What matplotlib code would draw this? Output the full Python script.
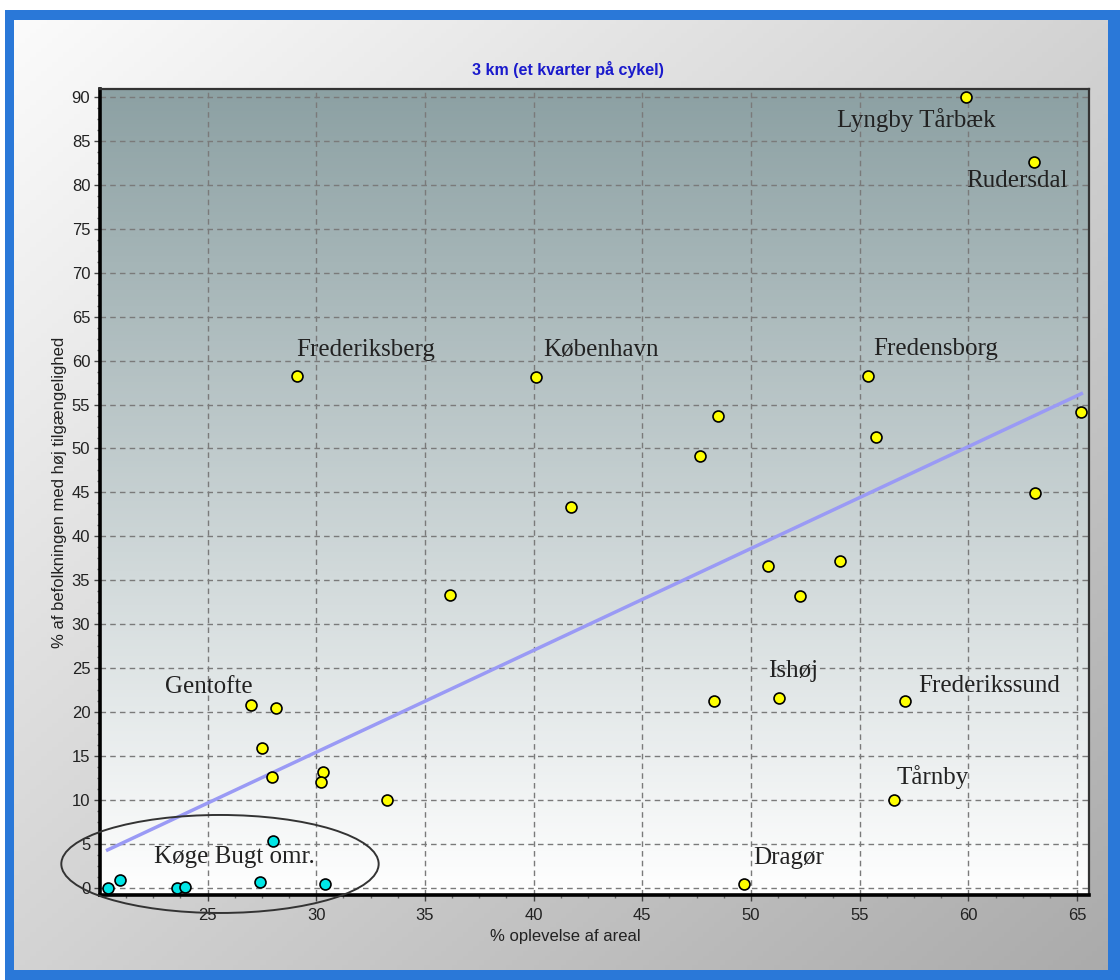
#!/usr/bin/env python
# scatter: 3 km (et kvarter paa cykel), areal vs. befolkning

import numpy as np
import matplotlib
matplotlib.use('Agg')
import matplotlib.pyplot as plt
import matplotlib.ticker as mticker
from matplotlib.patches import Ellipse, Rectangle

#------------------------------------------------------------------------------
# data
#------------------------------------------------------------------------------
# yellow points: kommuner
areal = [59.9, 63.0, 29.1, 40.1, 55.4, 65.2, 48.5, 55.75, 47.65, 63.06,
         41.7, 54.1, 50.8, 52.25, 36.15, 51.3, 48.3, 57.1, 27.0, 28.15,
         27.5, 30.3, 30.2, 27.96, 33.25, 56.6, 49.7]
befolk = [90.0, 82.6, 58.2, 58.1, 58.2, 54.2, 53.7, 51.3, 49.1, 44.9,
          43.3, 37.2, 36.6, 33.2, 33.3, 21.6, 21.3, 21.3, 20.8, 20.5,
          15.9, 13.2, 12.1, 12.6, 10.0, 10.0, 0.45]

# cyan points: Køge Bugt området
koege_areal = [20.4, 20.98, 23.6, 23.96, 27.4, 28.0, 30.4]
koege_befolk = [0.03, 0.87, 0.0, 0.15, 0.65, 5.3, 0.5]

# name labels (text anchor: left, vertical centre)
names = ['Lyngby Tårbæk', 'Rudersdal', 'Frederiksberg', 'København',
         'Fredensborg', 'Gentofte', 'Ishøj', 'Frederikssund', 'Tårnby',
         'Dragør', 'Køge Bugt omr.']
name_x = [53.95, 59.9, 29.07, 40.43, 55.6, 23.04, 50.8, 57.7, 56.7,
          50.09, 22.53]
name_y = [87.4, 80.4, 61.2, 61.2, 61.3, 22.9, 24.7, 23.0, 12.6, 3.4, 3.5]

title = '3 km (et kvarter på cykel)'
xlabel = '% oplevelse af areal'
ylabel = '% af befolkningen med høj tilgængelighed'

#------------------------------------------------------------------------------
# figure + frame
#------------------------------------------------------------------------------
W, H = 1120, 980
fig = plt.figure(figsize=(W / 100, H / 100), dpi=100, facecolor='white')

# blue frame
fig.patches.append(Rectangle((5 / W, 0), 1 - 5 / W, 1 - 10 / H,
                             transform=fig.transFigure, facecolor='#2a78d8',
                             edgecolor='none', zorder=-10))

# grey diagonal gradient inside the frame
bg = fig.add_axes([14 / W, 10 / H, (1108 - 14) / W, (970 - 20) / H],
                  zorder=-5)
u, v = np.meshgrid(np.linspace(0, 1, 200), np.linspace(0, 1, 200))
t = (u + v) / 2
c0 = np.array([0.985, 0.985, 0.985])
c1 = np.array([0.67, 0.67, 0.67])
grad = c0[None, None, :] * (1 - t[..., None]) + c1[None, None, :] * t[..., None]
bg.imshow(grad, aspect='auto', extent=[0, 1, 0, 1], origin='upper')
bg.set_axis_off()

#------------------------------------------------------------------------------
# plot axes
#------------------------------------------------------------------------------
ax = fig.add_axes([100 / W, 1 - 895 / H, (1089 - 100) / W, (895 - 89) / H])
xlim = (20.05, 65.55)
ylim = (-0.8, 90.9)

# vertical gradient in the plotting area
top = np.array([0.55, 0.63, 0.64])
bot = np.array([1.0, 1.0, 1.0])
s = np.linspace(0, 1, 256)[:, None]
vgrad = (top * (1 - s) + bot * s)[:, None, :]
ax.imshow(vgrad, aspect='auto', extent=[xlim[0], xlim[1], ylim[0], ylim[1]],
          origin='upper', zorder=0)

ax.grid(True, which='major', color='#7a7a7a', linestyle=(0, (4, 3)),
        linewidth=1)
ax.set_axisbelow(True)

# trend line (least squares through all points)
all_x = np.array(areal + koege_areal)
all_y = np.array(befolk + koege_befolk)
k, m = np.polyfit(all_x, all_y, 1)
lx = np.array([all_x.min(), all_x.max()])
ax.plot(lx, k * lx + m, color='#9a9af5', linewidth=2.5, zorder=3)

ax.scatter(areal, befolk, s=62, color='#ffff00', edgecolor='black',
           linewidth=1.2, zorder=4)
ax.scatter(koege_areal, koege_befolk, s=62, color='#00e6e6',
           edgecolor='black', linewidth=1.2, zorder=4, clip_on=False)

for nm, x, y in zip(names, name_x, name_y):
    ax.text(x, y, nm, family='Liberation Serif', fontsize=18,
            color='#222222', ha='left', va='center', zorder=5)

# ring around Køge Bugt
ax.add_patch(Ellipse((25.57, 2.73), 14.6, 11.15, facecolor='none',
                     edgecolor='#333333', linewidth=1.4, zorder=5,
                     clip_on=False))

ax.set_xlim(*xlim)
ax.set_ylim(*ylim)
ax.set_xticks([25, 30, 35, 40, 45, 50, 55, 60, 65])
ax.set_yticks(range(0, 91, 5))
ax.xaxis.set_minor_locator(mticker.AutoMinorLocator(4))
ax.yaxis.set_minor_locator(mticker.AutoMinorLocator(4))

ax.tick_params(which='major', direction='out', length=4, width=1,
               color='#444444', labelsize=12, pad=3)
ax.tick_params(which='minor', direction='out', length=2.5, width=1,
               color='#666666')
ax.tick_params(axis='x', which='major', pad=5)
for lbl in ax.get_xticklabels() + ax.get_yticklabels():
    lbl.set_family('Liberation Sans')
    lbl.set_color('#222222')

for side in ['left', 'bottom']:
    ax.spines[side].set_linewidth(2.6)
    ax.spines[side].set_color('black')
for side in ['top', 'right']:
    ax.spines[side].set_linewidth(1.6)
    ax.spines[side].set_color('#333333')

# title sits a bit left of the axes centre, as in the original
fig.text(568 / W, 1 - 70 / H, title, family='Liberation Sans',
         fontweight='bold', fontsize=11.5, color='#1a1acc',
         ha='center', va='center')
ax.set_xlabel(xlabel, family='Liberation Sans', fontsize=12,
              color='#222222')
ax.xaxis.set_label_coords((565 - 100) / (1089 - 100), -(937 - 895) / (895 - 89))
ax.xaxis.label.set_va('center')
ax.set_ylabel(ylabel, family='Liberation Sans', fontsize=12,
              color='#222222')
ax.yaxis.set_label_coords(-(100 - 60) / (1089 - 100), 0.5)
ax.yaxis.label.set_va('center')

fig.savefig('out.png', dpi=100, facecolor=fig.get_facecolor())
